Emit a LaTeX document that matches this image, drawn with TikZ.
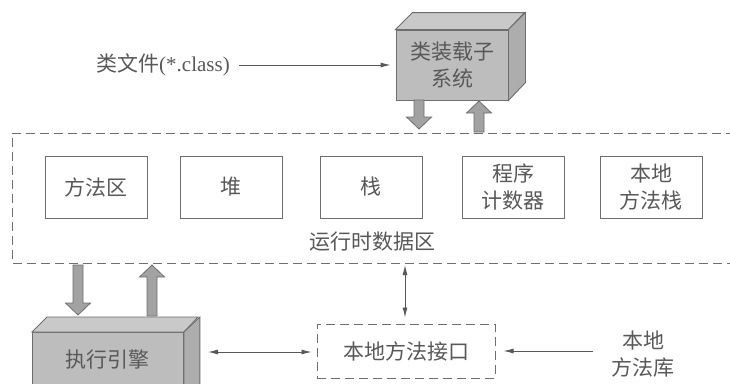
\documentclass[tikz,border=0pt]{standalone}
\usepackage{fontspec}
\setmainfont{Liberation Serif}
\newfontfamily\cjk{Noto Sans CJK SC}
\usetikzlibrary{arrows.meta}
\definecolor{ink}{HTML}{585858}
\definecolor{edge}{HTML}{6E6E6E}
\definecolor{frontc}{HTML}{BDBDBD}
\definecolor{topc}{HTML}{C9C9C9}
\definecolor{sidec}{HTML}{ADADAD}
\definecolor{blkc}{HTML}{A2A2A2}
\tikzset{
  cjkfont/.style={font=\cjk\fontsize{21}{27}\selectfont},
  memcell/.style={draw=edge, line width=0.9pt, minimum width=102pt, minimum height=62pt, align=center, inner sep=0pt},
  solid3d/.style={fill=frontc, draw=edge, line width=0.9pt, align=center},
  topface/.style={fill=topc, draw=edge, line width=0.9pt},
  sideface/.style={fill=sidec, draw=edge, line width=0.9pt},
  blk/.style={fill=blkc, draw=edge, line width=0.8pt, line join=miter},
  arr/.style={draw=ink, line width=0.9pt, -{Latex[length=10pt,width=5pt]}},
  dbl/.style={draw=ink, line width=0.9pt, {Latex[length=10pt,width=5pt]}-{Latex[length=10pt,width=5pt]}},
  regionline/.style={draw=edge, line width=1pt, dash pattern=on 9pt off 5pt},
}
\newcommand{\downblk}[3]{\draw[blk] (#1-5,#2) -- (#1-5,#3-12) -- (#1-12.5,#3-12) -- (#1,#3) -- (#1+12.5,#3-12) -- (#1+5,#3-12) -- (#1+5,#2) -- cycle;}
\newcommand{\upblk}[3]{\draw[blk] (#1-5,#2) -- (#1-5,#3+12) -- (#1-12.5,#3+12) -- (#1,#3) -- (#1+12.5,#3+12) -- (#1+5,#3+12) -- (#1+5,#2) -- cycle;}
\begin{document}
\begin{tikzpicture}[x=1pt,y=-1pt,cjkfont,text=ink]
\useasboundingbox[fill=white] (0,0) rectangle (730,383);

% class loader subsystem (3D box)
\node[solid3d, minimum width=112pt, minimum height=70pt] (loader) at (452,65) {类装载子\\系统};
\draw[topface] (loader.north west) -- ++(17,-17) -- ++(112,0) -- (loader.north east) -- cycle;
\draw[sideface] (loader.north east) -- ++(17,-17) -- ++(0,70) -- (loader.south east) -- cycle;

% class file label
\node (file) at (163,65) {类文件{\rmfamily\fontsize{21}{24}\selectfont(*.class)}};
\draw[arr, shorten <=6pt, shorten >=5pt] (file.east) -- (loader.west);

% runtime data area (dashed region running off the right edge)
\coordinate (rtl) at (12,133);
\coordinate (rbl) at (12,263);
\draw[regionline] (735,133) -- (rtl) -- (rbl) -- (735,263);

\node[memcell] (m1) at (96,187) {方法区};
\node[memcell] (m2) at (231,187) {堆};
\node[memcell] (m3) at (371,187) {栈};
\node[memcell] (m4) at (513,187) {程序\\计数器};
\node[memcell] (m5) at (651,187) {本地\\方法栈};
\node (rda) at (372,242) {运行时数据区};

% block arrows between loader and data area
\downblk{419}{100}{129}
\upblk{479}{132}{101}

% execution engine (3D box, cut by the bottom edge)
\node[solid3d, minimum width=151pt, minimum height=54pt, anchor=north west] (exec) at (32,332) {执行引擎};
\draw[topface] (exec.north west) -- ++(15,-15) -- ++(151,0) -- (exec.north east) -- cycle;
\draw[sideface] (exec.north east) -- ++(16,-15) -- ++(0,80) -- ([yshift=-15pt]exec.south east) -- cycle;

% block arrows between data area and execution engine
\downblk{78}{265}{315}
\upblk{152}{316}{265}

% native method interface
\node[draw=edge, line width=1pt, dash pattern=on 9pt off 5pt, minimum width=178pt, minimum height=54pt] (native) at (406,351) {本地方法接口};
\coordinate (rdn) at (405,263);
\draw[dbl, shorten <=2pt, shorten >=6pt] (rdn) -- (rdn |- native.north);

\coordinate (execside) at (199,352);
\draw[dbl, shorten <=9pt, shorten >=5pt] (execside) -- (native.west |- execside);

% native method library
\node[align=center] (lib) at (643,354) {本地\\方法库};
\draw[arr, shorten <=15pt, shorten >=8pt] (lib.west |- native.east) -- (native.east);
\end{tikzpicture}
\end{document}
